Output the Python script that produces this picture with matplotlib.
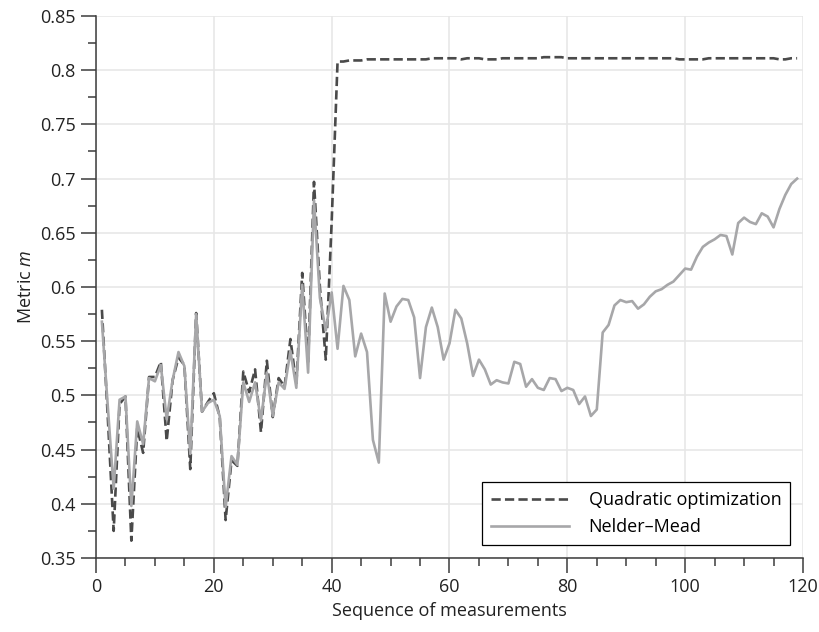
import matplotlib
matplotlib.use("Agg")
import matplotlib.pyplot as plt
from matplotlib.ticker import MultipleLocator, FuncFormatter

plt.rcParams["font.family"] = ["Open Sans", "DejaVu Sans"]
plt.rcParams["mathtext.fontset"] = "custom"
plt.rcParams["mathtext.it"] = "Open Sans:italic"
plt.rcParams["mathtext.rm"] = "Open Sans"

# measurement index
seq = list(range(1, 120))

# Nelder-Mead (solid)
nelder_mead = [
    0.568, 0.490, 0.414, 0.496, 0.499, 0.398, 0.476, 0.455, 0.516, 0.513,
    0.528, 0.478, 0.514, 0.540, 0.527, 0.446, 0.575, 0.485, 0.493, 0.496,
    0.481, 0.397, 0.444, 0.436, 0.512, 0.494, 0.512, 0.477, 0.521, 0.481,
    0.512, 0.506, 0.541, 0.507, 0.602, 0.521, 0.680, 0.590, 0.560, 0.595,
    0.543, 0.601, 0.588, 0.536, 0.557, 0.540, 0.459, 0.438, 0.594, 0.568,
    0.582, 0.589, 0.588, 0.572, 0.516, 0.563, 0.581, 0.563, 0.533, 0.548,
    0.579, 0.571, 0.548, 0.518, 0.533, 0.524, 0.510, 0.514, 0.512, 0.511,
    0.531, 0.529, 0.508, 0.515, 0.507, 0.505, 0.516, 0.515, 0.504, 0.507,
    0.505, 0.492, 0.499, 0.481, 0.487, 0.558, 0.565, 0.583, 0.588, 0.586,
    0.587, 0.580, 0.584, 0.591, 0.596, 0.598, 0.602, 0.605, 0.611, 0.617,
    0.616, 0.628, 0.637, 0.641, 0.644, 0.648, 0.647, 0.630, 0.659, 0.664,
    0.660, 0.658, 0.668, 0.665, 0.655, 0.672, 0.685, 0.695, 0.700,
]

# quadratic optimization (dashed)
quadratic = [
    0.579, 0.480, 0.375, 0.492, 0.499, 0.366, 0.470, 0.447, 0.517, 0.517,
    0.531, 0.458, 0.514, 0.535, 0.528, 0.432, 0.576, 0.485, 0.494, 0.502,
    0.480, 0.385, 0.440, 0.435, 0.522, 0.503, 0.524, 0.466, 0.532, 0.480,
    0.516, 0.508, 0.552, 0.510, 0.613, 0.530, 0.697, 0.600, 0.533, 0.660,
    0.808, 0.808, 0.809, 0.809, 0.809, 0.810, 0.810, 0.810, 0.810, 0.810,
    0.810, 0.810, 0.810, 0.810, 0.810, 0.810, 0.811, 0.811, 0.811, 0.811,
    0.811, 0.810, 0.811, 0.811, 0.811, 0.810, 0.810, 0.810, 0.811, 0.811,
    0.811, 0.811, 0.811, 0.811, 0.811, 0.812, 0.812, 0.812, 0.812, 0.811,
    0.811, 0.811, 0.811, 0.811, 0.811, 0.811, 0.811, 0.811, 0.811, 0.811,
    0.811, 0.811, 0.811, 0.811, 0.811, 0.811, 0.811, 0.811, 0.810, 0.810,
    0.810, 0.810, 0.810, 0.811, 0.811, 0.811, 0.811, 0.811, 0.811, 0.811,
    0.811, 0.811, 0.811, 0.811, 0.811, 0.810, 0.810, 0.811, 0.811,
]

fig = plt.figure(figsize=(8.2, 6.32), dpi=100)
ax = fig.add_axes([96 / 820, 1 - 558 / 632, 707 / 820, 542 / 632])

ax.plot(seq, quadratic, color="#4a4a4a", lw=1.9, ls=(0, (3.5, 1.6)),
        label="Quadratic optimization", zorder=3)
ax.plot(seq, nelder_mead, color="#a7a7a9", lw=1.9,
        label="Nelder\u2013Mead", zorder=3)

ax.set_xlim(0, 120)
ax.set_ylim(0.35, 0.85)
ax.xaxis.set_major_locator(MultipleLocator(20))
ax.xaxis.set_minor_locator(MultipleLocator(5))
ax.yaxis.set_major_locator(MultipleLocator(0.05))
ax.yaxis.set_minor_locator(MultipleLocator(0.025))
ax.yaxis.set_major_formatter(FuncFormatter(lambda v, p: "%g" % round(v, 3)))

ax.grid(True, which="major", color="#e6e6e6", lw=1.1, zorder=0)
ax.set_axisbelow(True)
for s in ["top", "right"]:
    ax.spines[s].set_visible(False)
for s in ["left", "bottom"]:
    ax.spines[s].set_color("#3c3c3c")
    ax.spines[s].set_linewidth(1.1)

ax.tick_params(which="major", direction="out", length=11, width=1.1,
               color="#3c3c3c", labelsize=13, labelcolor="#222222")
ax.tick_params(which="minor", direction="out", length=6, width=1.1,
               color="#3c3c3c")

ax.set_xlabel("Sequence of measurements", fontsize=13, color="#222222")
ax.set_ylabel("Metric $m$", fontsize=13, color="#222222")

leg = ax.legend(loc="lower right", fontsize=13, frameon=True, fancybox=False,
                edgecolor="black", framealpha=1, handlelength=4.3,
                handletextpad=1.1, borderpad=0.5, borderaxespad=0.7)
leg.get_frame().set_linewidth(0.9)

fig.savefig("out.png", dpi=100)
